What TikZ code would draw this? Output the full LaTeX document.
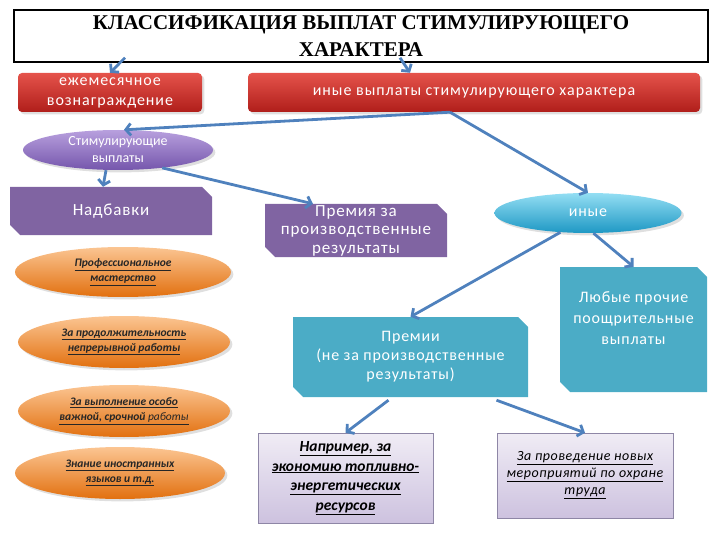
\documentclass[tikz,border=0pt]{standalone}
\usepackage{fontspec}
\setmainfont{Carlito}
\newfontfamily\titlefont{Liberation Serif}
\usetikzlibrary{shapes.geometric,arrows.meta,shadows}

\definecolor{arrowblue}{HTML}{4F81BD}
\definecolor{redtop}{HTML}{E5534B}
\definecolor{redbot}{HTML}{B01E1A}
\definecolor{violetbox}{HTML}{8064A2}
\definecolor{lilactop}{HTML}{B8A0DE}
\definecolor{lilacbot}{HTML}{7556AC}
\definecolor{tealbox}{HTML}{4BACC6}
\definecolor{skytop}{HTML}{93DEF3}
\definecolor{skybot}{HTML}{1E98C4}
\definecolor{orangetop}{HTML}{FBC592}
\definecolor{orangebot}{HTML}{E2700F}
\definecolor{paletop}{HTML}{F0ECF5}
\definecolor{palebot}{HTML}{CDC2DF}
\definecolor{paleedge}{HTML}{8E86A6}

\newcommand{\uln}[1]{\underline{#1}}

\tikzset{
  arr/.style={-{Straight Barb[length=5pt,width=12pt]}, line width=2.8pt, arrowblue},
  titlebox/.style={draw, line width=1.5pt, minimum width=694pt, minimum height=52pt,
    inner sep=0pt, align=center, font=\titlefont\bfseries\fontsize{21}{27}\selectfont},
  redbox/.style={rounded corners=4pt, top color=redtop, bottom color=redbot, text=white,
    minimum height=39pt, inner sep=0pt, align=center,
    font=\fontsize{16}{20}\selectfont\addfontfeature{LetterSpace=6},
    drop shadow={opacity=0.25}},
  snipbox/.style={rectangle, inner sep=0pt, text=white, align=center,
    font=\fontsize{16}{19}\selectfont\addfontfeature{LetterSpace=5},
    path picture={\fill[#1] (path picture bounding box.north west)
      -- ([xshift=-10pt]path picture bounding box.north east)
      -- ([yshift=-10pt]path picture bounding box.north east)
      -- (path picture bounding box.south east)
      -- ([xshift=10pt]path picture bounding box.south west)
      -- ([yshift=10pt]path picture bounding box.south west) -- cycle;}},
  oval/.style={ellipse, inner sep=0pt, align=center, drop shadow={opacity=0.25}},
  orangeoval/.style={oval, top color=orangetop, bottom color=orangebot,
    minimum width=212pt, minimum height=52pt, text=black!85,
    font=\bfseries\itshape\fontsize{11.5}{15}\selectfont},
  examplebox/.style={draw=paleedge, top color=paletop, bottom color=palebot, inner sep=0pt,
    align=center, text=black}
}

\begin{document}
\begin{tikzpicture}[x=1pt,y=-1pt]
  \useasboundingbox (0,0) rectangle (720,540);

  % Title
  \node[titlebox] (title) at (361,36) {КЛАССИФИКАЦИЯ ВЫПЛАТ СТИМУЛИРУЮЩЕГО\\ХАРАКТЕРА};

  % Red boxes
  \node[redbox, minimum width=184pt] (monthly) at (110,92.5) {ежемесячное\\вознаграждение};
  \node[redbox, minimum width=452pt] (other) at (474,92.5) {иные выплаты стимулирующего характера};

  % Ovals
  \node[oval, top color=lilactop, bottom color=lilacbot, text=white, minimum width=190pt,
    minimum height=40pt, font=\fontsize{14}{17}\selectfont] (stimul) at (118,150) {Стимулирующие\\выплаты};
  \node[oval, top color=skytop, bottom color=skybot, text=white, minimum width=187pt,
    minimum height=40pt, font=\fontsize{16}{18}\selectfont\addfontfeature{LetterSpace=5}] (inye) at (588,213) {иные};

  % Snipped boxes
  \node[snipbox=violetbox, minimum width=202pt, minimum height=48pt,
    font=\fontsize{17}{19}\selectfont\addfontfeature{LetterSpace=5}] (nadb) at (111,211) {Надбавки};
  \node[snipbox=violetbox, minimum width=182pt, minimum height=53pt,
    font=\fontsize{17}{18.5}\selectfont\addfontfeature{LetterSpace=5}] (prem) at (356,230.5)
    {Премия за\\производственные\\результаты};
  \node[snipbox=tealbox, minimum width=235pt, minimum height=80pt] (premii) at (410.5,357)
    {Премии\\(не за производственные\\результаты)};
  \node[snipbox=tealbox, minimum width=147pt, minimum height=125pt,
    label={[text=white, align=center, yshift=11pt,
      font=\fontsize{16}{21}\selectfont\addfontfeature{LetterSpace=5}]center:{Любые прочие\\поощрительные\\выплаты}}]
    (anyother) at (633.5,329.5) {};

  % Orange ovals
  \node[orangeoval, minimum width=216pt, minimum height=50pt] (master) at (123,272)
    {\uln{Профессиональное}\\\uln{мастерство}};
  \node[orangeoval] (duration) at (124,342) {\uln{За продолжительность}\\\uln{непрерывной работы}};
  \node[orangeoval] (urgent) at (124,411) {\uln{За выполнение особо}\\\uln{важной, срочной \mdseries работы}};
  \node[orangeoval, minimum width=210pt] (lang) at (120,473) {\uln{Знание иностранных}\\\uln{языков и т.д.}};

  % Example boxes
  \node[examplebox, minimum width=175pt, minimum height=90pt,
    font=\bfseries\itshape\fontsize{15.5}{19.5}\selectfont] (fuel) at (345.5,478)
    {\uln{Например, за}\\\uln{экономию топливно-}\\\uln{энергетических}\\\uln{ресурсов}};
  \node[examplebox, minimum width=176pt, minimum height=85pt,
    font=\itshape\fontsize{14}{17}\selectfont\addfontfeature{LetterSpace=4}] (safety) at (585,475.5)
    {\uln{За проведение новых}\\\uln{мероприятий по охране}\\\uln{труда}};

  % Arrows
  \draw[arr] ([xshift=15pt,yshift=5pt]title.south -| monthly.north) -- (monthly.north);
  \draw[arr] ([xshift=-74pt,yshift=5pt]title.south -| other.north) -- ([xshift=-64pt]other.north);
  \draw[arr] ([xshift=-24pt]other.south) -- ([xshift=6pt]stimul.north);
  \draw[arr] ([xshift=-24pt]other.south) -- (inye.north);
  \draw[arr] ([xshift=-12pt]stimul.south) -- ([xshift=-8pt]nadb.north);
  \draw[arr] (stimul.-22) -- ([xshift=-43pt]prem.north);
  \draw[arr] (inye.215) -- (premii.north);
  \draw[arr] (inye.-75) -- (anyother.north);
  \draw[arr] ([xshift=-22pt,yshift=-3pt]premii.south) -- (fuel.north);
  \draw[arr] ([xshift=86pt,yshift=-3pt]premii.south) -- (safety.north);
\end{tikzpicture}
\end{document}
